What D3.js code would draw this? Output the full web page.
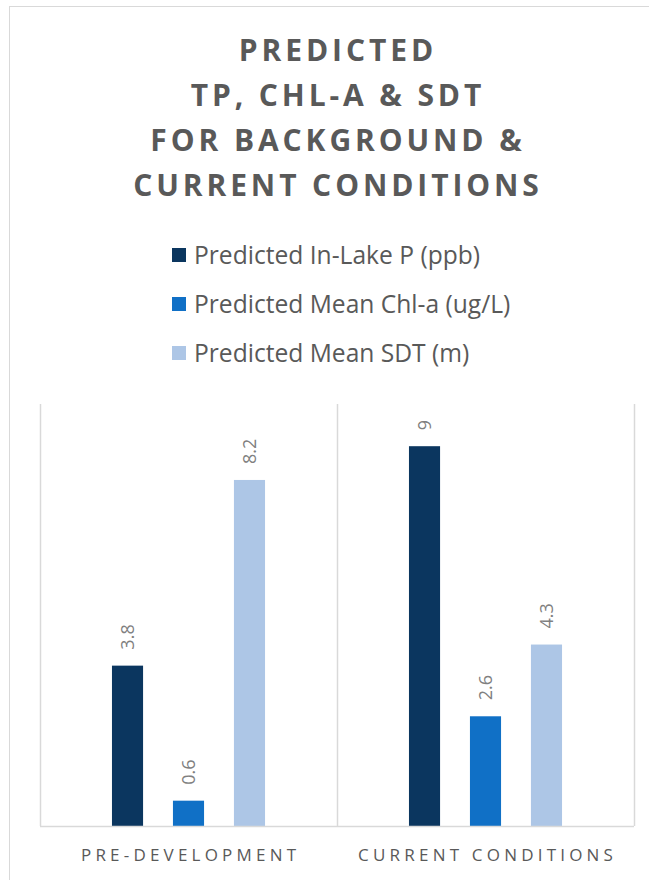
<!DOCTYPE html>
<html><head><meta charset="utf-8">
<script src="https://cdn.jsdelivr.net/npm/d3@7/dist/d3.min.js"></script>
<style>body{margin:0;background:#fff;}svg{display:block;}</style>
</head><body>
<svg id="c" width="649" height="880"></svg>
<script>
const categories = ["PRE-DEVELOPMENT", "CURRENT CONDITIONS"];
const seriesNames = ["Predicted In-Lake P (ppb)", "Predicted Mean Chl-a (ug/L)", "Predicted Mean SDT (m)"];
const seriesColors = ["#0b365f", "#1070c6", "#adc6e6"];
const inLakeP = [3.8, 9];
const chlA = [0.6, 2.6];
const sdt = [8.2, 4.3];
const titleLines = ["PREDICTED", "TP, CHL-A & SDT", "FOR BACKGROUND &", "CURRENT CONDITIONS"];

const series = [inLakeP, chlA, sdt];
const svg = d3.select("#c");
const font = "'Open Sans', sans-serif";

// outer frame
svg.append("rect").attr("x", 9.5).attr("y", 6.5).attr("width", 660).attr("height", 900)
  .attr("fill", "#fff").attr("stroke", "#d9d9d9").attr("stroke-width", 1);

// title
const tls = 3.9;
svg.append("g").selectAll("text").data(titleLines).join("text")
  .attr("x", 336 + tls / 2).attr("y", (d, i) => 60.5 + i * 45)
  .attr("text-anchor", "middle").attr("font-family", font).attr("font-weight", 700)
  .attr("font-size", 30).attr("letter-spacing", tls).attr("fill", "#595959")
  .text(d => d);

// legend
const lg = svg.append("g").selectAll("g").data(seriesNames).join("g")
  .attr("transform", (d, i) => `translate(172, ${248 + i * 49})`);
lg.append("rect").attr("width", 14).attr("height", 14).attr("fill", (d, i) => seriesColors[i]);
lg.append("text").attr("x", 22).attr("y", 15.5).attr("font-family", font).attr("font-size", 24.6)
  .attr("fill", "#595959").text(d => d);

// plot
const pLeft = 40, pRight = 634, pTop = 404, pBottom = 826;
const x0 = d3.scaleBand().domain(categories).range([pLeft, pRight]);
const x1 = d3.scaleBand().domain(d3.range(series.length)).range([0, x0.bandwidth()]).paddingInner(0.49).paddingOuter(1.18);
const y = d3.scaleLinear().domain([0, 10]).range([pBottom, pTop]);

// vertical separators
const bounds = [pLeft, ...categories.map(c => x0(c) + x0.bandwidth())];
svg.append("g").selectAll("line").data(bounds).join("line")
  .attr("x1", d => Math.round(d) + 0.5).attr("x2", d => Math.round(d) + 0.5)
  .attr("y1", pTop).attr("y2", pBottom).attr("stroke", "#d9d9d9").attr("stroke-width", 1.5);

const groups = svg.append("g").selectAll("g").data(categories).join("g")
  .attr("transform", c => `translate(${x0(c)},0)`);
groups.each(function(c, ci) {
  const g = d3.select(this);
  series.forEach((s, si) => {
    const v = s[ci];
    g.append("rect").attr("x", x1(si)).attr("width", x1.bandwidth())
      .attr("y", y(v)).attr("height", y(0) - y(v)).attr("fill", seriesColors[si]);
    const cx = x1(si) + x1.bandwidth() / 2;
    g.append("text").attr("transform", `translate(${cx + 6.5},${y(v) - 16}) rotate(-90)`)
      .attr("font-family", font).attr("font-size", 18).attr("fill", "#808080")
      .attr("text-anchor", "start").text(v);
  });
});

// baseline
svg.append("line").attr("x1", pLeft).attr("x2", pRight).attr("y1", pBottom + 0.5).attr("y2", pBottom + 0.5)
  .attr("stroke", "#d9d9d9").attr("stroke-width", 1.5);

// category axis labels
const als = 4.2;
const ax = svg.append("g").attr("transform", `translate(${als / 2},${pBottom})`)
  .call(d3.axisBottom(x0).tickSize(0).tickPadding(0));
ax.select(".domain").remove();
ax.selectAll("text").attr("y", 35).attr("font-family", font).attr("font-size", 17)
  .attr("letter-spacing", als).attr("fill", "#595959").attr("dy", 0);
</script>
</body></html>
